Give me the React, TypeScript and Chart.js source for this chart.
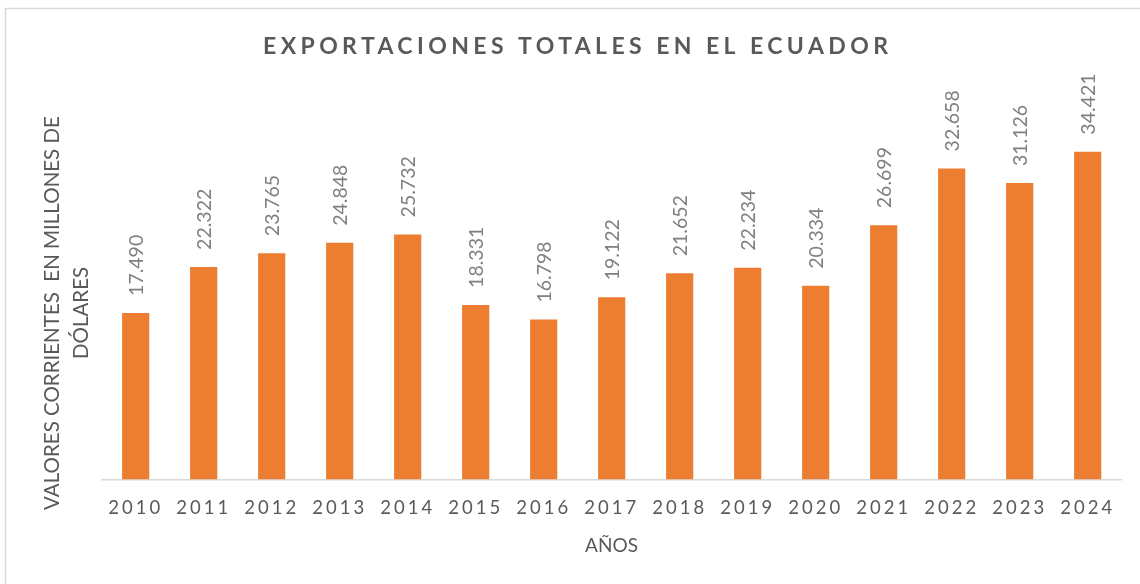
import React, { useEffect, useRef } from "react";
import { Chart, registerables } from "chart.js";

Chart.register(...registerables);

const categories = ["2010", "2011", "2012", "2013", "2014", "2015", "2016", "2017", "2018", "2019", "2020", "2021", "2022", "2023", "2024"];
const exportValues = [17490, 22322, 23765, 24848, 25732, 18331, 16798, 19122, 21652, 22234, 20334, 26699, 32658, 31126, 34421];
const yMin = 0;
const yMax = 40000;

const chartTitle = "EXPORTACIONES TOTALES EN EL ECUADOR";
const yTitleLines = ["VALORES CORRIENTES  EN MILLONES DE", "DÓLARES"];
const xTitle = "AÑOS";

const FONT = "Lato, 'Open Sans', sans-serif";

function fmt(v: number): string {
  const th = Math.floor(v / 1000);
  const rest = String(v % 1000).padStart(3, "0");
  return th > 0 ? `${th}.${rest}` : String(v);
}

const decorPlugin = {
  id: "decor",
  beforeDraw(chart: any) {
    const ctx = chart.ctx;
    ctx.save();
    ctx.fillStyle = "#ffffff";
    ctx.fillRect(0, 0, chart.width, chart.height);
    ctx.strokeStyle = "#d9d9d9";
    ctx.lineWidth = 1.5;
    ctx.beginPath();
    ctx.moveTo(5.5, chart.height);
    ctx.lineTo(5.5, 8.5);
    ctx.lineTo(chart.width, 8.5);
    ctx.stroke();
    ctx.restore();
    ctx.letterSpacing = "3px";
  },
  beforeDatasetsDraw(chart: any) {
    chart.ctx.letterSpacing = "0px";
  },
  afterDatasetsDraw(chart: any) {
    const ctx = chart.ctx;
    const meta = chart.getDatasetMeta(0);
    const data = chart.data.datasets[0].data as number[];
    ctx.save();
    ctx.letterSpacing = "0px";
    ctx.font = `19.5px ${FONT}`;
    ctx.fillStyle = "#7f7f7f";
    ctx.textAlign = "left";
    ctx.textBaseline = "middle";
    meta.data.forEach((bar: any, i: number) => {
      ctx.save();
      ctx.translate(bar.x + 1, bar.y - 17);
      ctx.rotate(-Math.PI / 2);
      ctx.fillText(fmt(data[i]), 0, 0);
      ctx.restore();
    });
    ctx.restore();
  },
  afterDraw(chart: any) {
    const ctx = chart.ctx;
    ctx.save();
    // Title
    ctx.font = `bold 23px ${FONT}`;
    ctx.fillStyle = "#595959";
    ctx.textAlign = "left";
    ctx.textBaseline = "alphabetic";
    ctx.letterSpacing = "0px";
    const natural = ctx.measureText(chartTitle).width;
    const targetW = 625;
    const sp = (targetW - natural) / (chartTitle.length - 1);
    ctx.letterSpacing = `${sp}px`;
    ctx.fillText(chartTitle, 575.5 - targetW / 2, 54);
    ctx.letterSpacing = "0px";

    // X title
    ctx.font = `19px ${FONT}`;
    ctx.textAlign = "center";
    ctx.fillText(xTitle, 611.5, 552);

    // Y title
    ctx.save();
    ctx.translate(0, 313);
    ctx.rotate(-Math.PI / 2);
    ctx.textAlign = "center";
    ctx.font = `20.5px ${FONT}`;
    ctx.fillText(yTitleLines[0], 0, 59);
    ctx.fillText(yTitleLines[1], 0, 88);
    ctx.restore();
    ctx.restore();
  },
};

export default function App() {
  const ref = useRef<HTMLCanvasElement | null>(null);
  useEffect(() => {
    document.body.style.margin = "0";
    const canvas = ref.current;
    if (!canvas) return;
    const chart = new Chart(canvas, {
      type: "bar",
      data: {
        labels: categories,
        datasets: [
          {
            data: exportValues,
            backgroundColor: "#ED7D31",
            borderWidth: 0,
            categoryPercentage: 1,
            barPercentage: 0.4,
          },
        ],
      },
      options: {
        animation: false,
        responsive: false,
        maintainAspectRatio: false,
        devicePixelRatio: 1,
        layout: { padding: { left: 101.7, right: 18.3, top: 98.5, bottom: 54.5 } },
        plugins: {
          legend: { display: false },
          tooltip: { enabled: false },
          title: { display: false },
        },
        scales: {
          x: {
            grid: { display: false, drawTicks: false },
            border: { display: true, color: "#d9d9d9", width: 1.5 },
            ticks: {
              color: "#595959",
              font: { family: FONT, size: 18.5 },
              padding: 17,
              maxRotation: 0,
              autoSkip: false,
            },
            afterFit: (s: any) => {
              s.height = 50;
            },
          },
          y: {
            display: false,
            min: yMin,
            max: yMax,
          },
        },
      },
      plugins: [decorPlugin],
    });
    return () => chart.destroy();
  }, []);
  return (
    <div style={{ width: 1140, height: 584 }}>
      <canvas ref={ref} width={1140} height={584} style={{ display: "block", width: 1140, height: 584 }} />
    </div>
  );
}
